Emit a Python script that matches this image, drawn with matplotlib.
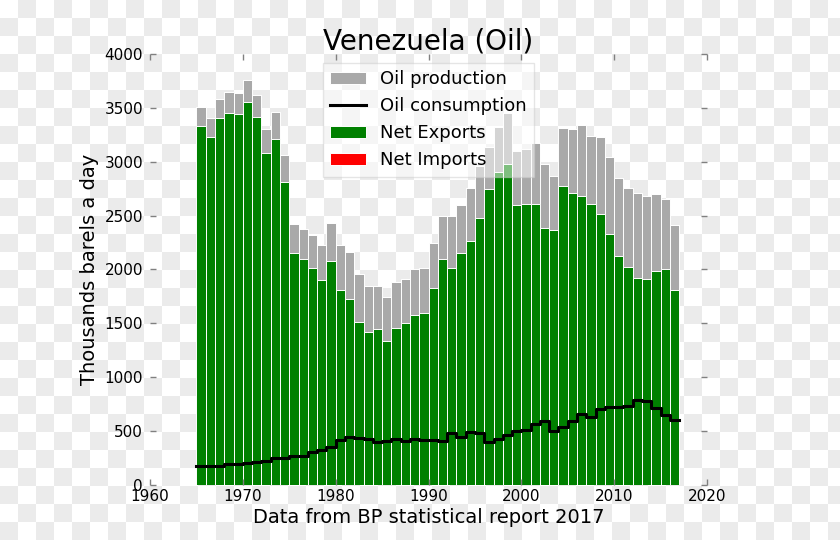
import numpy as np
import matplotlib
matplotlib.use('Agg')
import matplotlib.pyplot as plt

# -----------------------------------------------------------------------------
# Data (thousand barrels a day) for Venezuela
# -----------------------------------------------------------------------------
years = list(range(1965, 2017))

production = [3508, 3406, 3582, 3644, 3635, 3759, 3622, 3304, 3459, 3063,
              2422, 2373, 2317, 2228, 2427, 2230, 2165, 1955, 1850, 1850,
              1745, 1887, 1912, 2002, 2014, 2249, 2500, 2500, 2594, 2755,
              2961, 3140, 3326, 3449, 3100, 3118, 3177, 2982, 2871, 3310,
              3307, 3344, 3239, 3227, 3047, 2846, 2759, 2710, 2685, 2698,
              2652, 2413]

consumption = [176, 173, 179, 192, 195, 207, 210, 226, 251, 254,
               269, 272, 306, 325, 350, 418, 443, 439, 427, 402,
               411, 427, 408, 427, 418, 420, 405, 483, 443, 492,
               480, 396, 424, 467, 501, 507, 566, 597, 501, 538,
               594, 662, 634, 708, 721, 721, 733, 786, 777, 715,
               647, 603]

net_exports = [max(p - c, 0) for p, c in zip(production, consumption)]
net_imports = [max(c - p, 0) for p, c in zip(production, consumption)]

# -----------------------------------------------------------------------------
# Figure with a checkered background
# -----------------------------------------------------------------------------
fig = plt.figure(figsize=(8.4, 5.4), dpi=100)
yy, xx = np.mgrid[0:540, 0:840]
checker = np.where(((yy // 18) + (xx // 18)) % 2 == 1, 235, 255).astype(np.uint8)
checker = np.dstack([checker, checker, checker])
fig.figimage(checker, xo=0, yo=0, origin='upper', zorder=-10)
fig.patch.set_alpha(0)

ax = fig.add_axes([0.1786, 0.1019, 0.6631, 0.7981])
ax.patch.set_alpha(0)

# -----------------------------------------------------------------------------
# Bars and consumption line
# -----------------------------------------------------------------------------
h_prod = ax.bar(years, production, width=1, align='edge', color='darkgray',
                edgecolor='white', linewidth=0.7, label='Oil production')
h_cons, = ax.plot(years + [2017], consumption + [consumption[-1]], drawstyle='steps-post',
                  color='black', linewidth=2.2, label='Oil consumption', zorder=4)
h_exp = ax.bar(years, net_exports, width=1, align='edge', color='green',
               edgecolor='white', linewidth=0.7, label='Net Exports')
h_imp = ax.bar(years, net_imports, bottom=production, width=1, align='edge', color='red',
               edgecolor='white', linewidth=0.7, label='Net Imports')

# -----------------------------------------------------------------------------
# Axes styling
# -----------------------------------------------------------------------------
ax.set_xlim(1960, 2020)
ax.set_ylim(0, 4000)
ax.set_xticks(range(1960, 2021, 10))
ax.set_yticks(range(0, 4001, 500))
for s in ax.spines.values():
    s.set_visible(False)
ax.tick_params(direction='in', length=4, width=1, color='gray',
               labelsize=11, top=True, right=True)
ax.tick_params(axis='x', pad=3)
ax.tick_params(axis='y', pad=5)

ax.set_title('Venezuela (Oil)', fontsize=20, pad=3)
ax.set_xlabel('Data from BP statistical report 2017', fontsize=14, labelpad=3)
ax.set_ylabel('Thousands barels a day', fontsize=14, labelpad=4)

leg = ax.legend([h_prod, h_cons, h_exp, h_imp],
                ['Oil production', 'Oil consumption', 'Net Exports', 'Net Imports'],
                loc='upper center', fontsize=13, fancybox=False,
                framealpha=0.5, borderaxespad=0.5)
leg.get_frame().set_edgecolor('#cccccc')

fig.savefig('out.png', dpi=100)
